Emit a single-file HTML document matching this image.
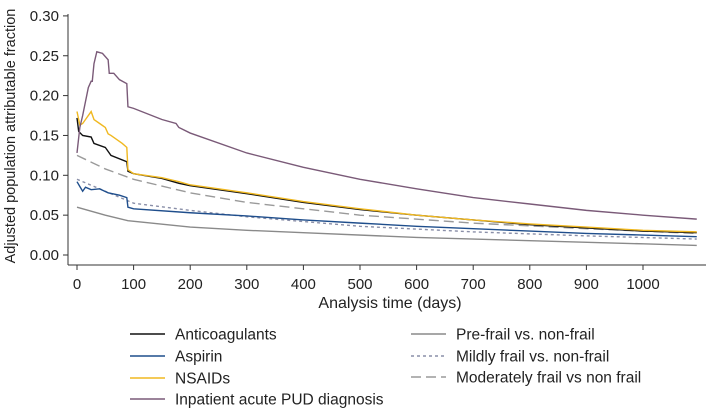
<!DOCTYPE html>
<html><head><meta charset="utf-8"><style>
body{margin:0;background:#fff;}
svg{display:block;font-family:"Liberation Sans",Arial,sans-serif;}
</style></head><body>
<svg id="chart" width="709" height="410">
<g id="axes"></g><g id="series"></g><g id="legend"></g>
</svg>
<script>
const xTicks=[0,100,200,300,400,500,600,700,800,900,1000];
const yTicks=[0,0.05,0.10,0.15,0.20,0.25,0.30];
const yTickLabels=["0.00","0.05","0.10","0.15","0.20","0.25","0.30"];
const seriesNames=["Anticoagulants","Aspirin","NSAIDs","Inpatient acute PUD diagnosis","Pre-frail vs. non-frail","Mildly frail vs. non-frail","Moderately frail vs non frail"];
const pudDays=[0,5,10,20,25,27,30,35,45,55,57,65,75,88,90,100,150,175,180,200,300,400,500,600,700,800,900,1000,1095];
const pudVals=[0.128,0.16,0.175,0.21,0.218,0.218,0.24,0.255,0.253,0.245,0.228,0.228,0.22,0.215,0.186,0.184,0.17,0.165,0.16,0.153,0.128,0.11,0.095,0.083,0.072,0.064,0.056,0.05,0.045];
const nsDays=[0,3,5,10,15,25,30,40,50,55,60,80,88,90,100,150,180,200,300,400,500,600,700,800,900,1000,1095];
const nsVals=[0.18,0.17,0.163,0.165,0.17,0.18,0.17,0.165,0.16,0.152,0.15,0.14,0.135,0.107,0.102,0.097,0.092,0.088,0.078,0.067,0.058,0.05,0.044,0.039,0.035,0.031,0.029];
const acDays=[0,3,10,25,30,50,60,88,90,100,150,180,200,300,400,500,600,700,800,900,1000,1095];
const acVals=[0.172,0.155,0.15,0.148,0.14,0.135,0.125,0.117,0.105,0.102,0.096,0.09,0.087,0.077,0.066,0.057,0.05,0.044,0.038,0.034,0.03,0.028];
const asDays=[0,5,10,15,25,40,55,75,88,90,100,200,300,400,500,600,700,800,900,1000,1095];
const asVals=[0.092,0.086,0.08,0.085,0.082,0.083,0.078,0.075,0.072,0.06,0.058,0.053,0.049,0.044,0.040,0.036,0.033,0.030,0.027,0.025,0.023];
const mfDays=[0,100,200,300,400,500,700,900,1095];
const mfVals=[0.095,0.065,0.056,0.048,0.042,0.036,0.029,0.024,0.02];
const modDays=[0,50,100,200,300,400,500,700,900,1095];
const modVals=[0.125,0.108,0.095,0.078,0.066,0.058,0.050,0.040,0.033,0.027];
const preDays=[0,50,90,200,300,400,600,800,1000,1095];
const preVals=[0.06,0.05,0.043,0.035,0.031,0.028,0.022,0.018,0.014,0.012];

const NS="http://www.w3.org/2000/svg";
const X=d=>77+d*0.566;
const Y=v=>255-v*797;
function mk(t,a,p){const e=document.createElementNS(NS,t);for(const k in a)e.setAttribute(k,a[k]);p.appendChild(e);return e;}
const axes=document.getElementById('axes');
const ya=mk('line',{x1:68,y1:14,x2:68,y2:265,stroke:'#333','stroke-width':1},axes);


const xa=mk('line',{x1:68,y1:265,x2:706,y2:265,stroke:'#333','stroke-width':1},axes);


yTicks.forEach((v,i)=>{
 mk('line',{x1:63,x2:68,y1:Y(v),y2:Y(v),stroke:'#333'},axes);
 const t=mk('text',{x:59,y:Y(v)+5,'text-anchor':'end','font-size':15,fill:'#222'},axes);
 t.textContent=yTickLabels[i];
 
 
});
xTicks.forEach(v=>{
 mk('line',{x1:X(v),x2:X(v),y1:265,y2:270,stroke:'#333'},axes);
 const t=mk('text',{x:X(v),y:289,'text-anchor':'middle','font-size':15,fill:'#222'},axes);
 t.textContent=String(v);
 
 
});
const yt=mk('text',{x:0,y:0,transform:'translate(15,136) rotate(-90)','text-anchor':'middle','font-size':14.5,fill:'#222'},axes);
yt.textContent='Adjusted population attributable fraction';


const xt=mk('text',{x:390,y:308,'text-anchor':'middle','font-size':16,fill:'#222'},axes);
xt.textContent='Analysis time (days)';



const styles=[
 {d:acDays,v:acVals,c:'#111',dash:'',name:'anticoagulants-line'},
 {d:asDays,v:asVals,c:'#1f4e8c',dash:'',name:'aspirin-line'},
 {d:nsDays,v:nsVals,c:'#f0b820',dash:'',name:'nsaids-line'},
 {d:pudDays,v:pudVals,c:'#7a5a78',dash:'',name:'pud-line'},
 {d:preDays,v:preVals,c:'#8a8a8a',dash:'',name:'prefrail-line'},
 {d:mfDays,v:mfVals,c:'#8a8fa8',dash:'3,3',name:'mildly-frail-line'},
 {d:modDays,v:modVals,c:'#9a9a9a',dash:'10,5',name:'moderately-frail-line'}
];
const sg=document.getElementById('series');
const order=[4,5,6,1,0,2,3];
order.forEach(i=>{
 const s=styles[i];
 const p=mk('polyline',{points:s.d.map((d,j)=>X(d)+','+Y(s.v[j])).join(' '),fill:'none',stroke:s.c,'stroke-width':1.4,'stroke-dasharray':s.dash},sg);
 
 
});
const lg=document.getElementById('legend');
const pos=[[130,334],[130,356],[130,378],[130,399],[411,334],[411,356],[411,377]];
styles.forEach((s,i)=>{
 const [lx,ly]=pos[i];
 const l=mk('line',{x1:lx,x2:lx+35,y1:ly,y2:ly,stroke:s.c,'stroke-width':1.6,'stroke-dasharray':s.dash},lg);
 
 
 const t=mk('text',{x:lx+45,y:ly+5.5,'font-size':15.5,fill:'#222'},lg);
 t.textContent=seriesNames[i];
 
 
});
</script>
</body></html>
